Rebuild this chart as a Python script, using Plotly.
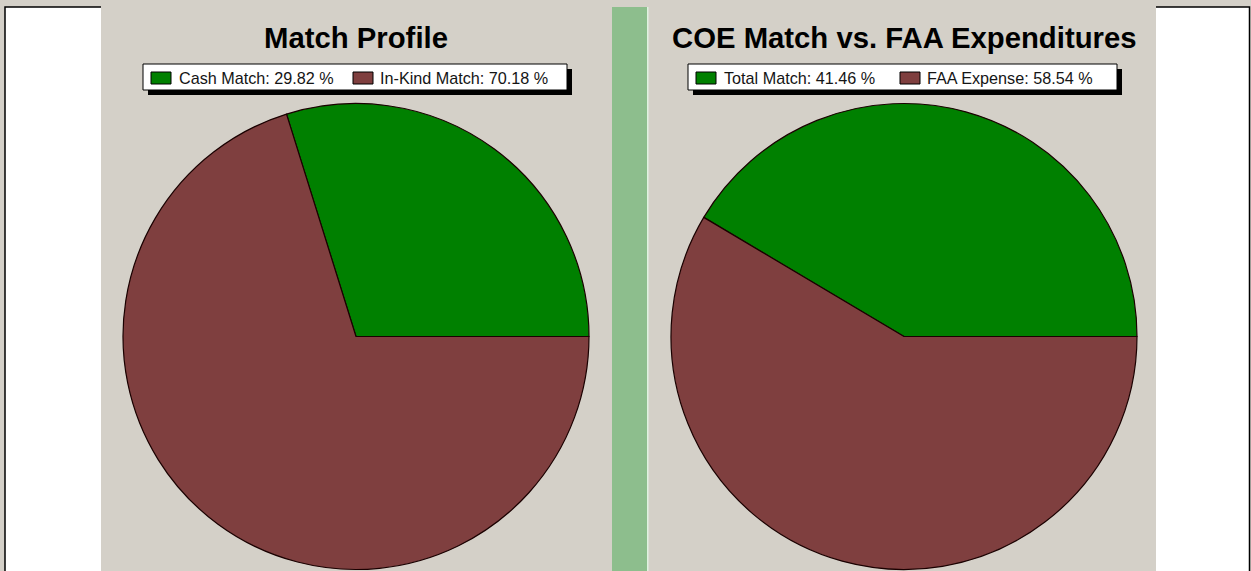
import plotly.graph_objects as go

# ---- data ----
left_title = "Match Profile"
left_labels = ["Cash Match", "In-Kind Match"]
left_values = [29.82, 70.18]

right_title = "COE Match vs. FAA Expenditures"
right_labels = ["Total Match", "FAA Expense"]
right_values = [41.46, 58.54]

slice_colors = ["#008000", "#7f3f3f"]

W, H = 1251, 571
PANEL = "#d4d0c8"
FONT = "Liberation Sans, Arial, sans-serif"


def px(x):
    return x / W


def py(y):
    return 1 - y / H


fig = go.Figure()


def add_pie(labels, values, cx, cy, r):
    # first slice starts at 3 o'clock and runs counterclockwise
    rot = 90 - 360.0 * values[0] / sum(values)
    fig.add_trace(go.Pie(
        labels=labels, values=values, sort=False,
        direction="counterclockwise", rotation=rot,
        marker=dict(colors=slice_colors, line=dict(color="#1a0000", width=1.2)),
        textinfo="none", showlegend=False,
        domain=dict(x=[px(cx - r), px(cx + r)], y=[py(cy + r), py(cy - r)]),
    ))


add_pie(left_labels, left_values, 356, 336.5, 233)
add_pie(right_labels, right_values, 904, 336.5, 233)

shapes = []
# white outer area with black border
shapes.append(dict(type="rect", xref="paper", yref="paper", layer="below",
                   x0=px(5), x1=px(1249.5), y0=py(575), y1=py(7),
                   fillcolor="white", line=dict(color="black", width=1.5)))
# gray panels
shapes.append(dict(type="rect", xref="paper", yref="paper", layer="below",
                   x0=px(101), x1=px(1156), y0=py(572), y1=py(-1),
                   fillcolor=PANEL, line=dict(width=0)))
# green separator strip
shapes.append(dict(type="rect", xref="paper", yref="paper", layer="below",
                   x0=px(612), x1=px(647), y0=py(572), y1=py(7),
                   fillcolor="#8dbe8d", line=dict(width=0)))
shapes.append(dict(type="rect", xref="paper", yref="paper", layer="below",
                   x0=px(647), x1=px(648.5), y0=py(572), y1=py(7),
                   fillcolor="#e0f2e0", line=dict(width=0)))

annotations = []


def add_legend(labels, values, box, items):
    x0, x1, y0, y1 = box
    # shadow
    shapes.append(dict(type="rect", xref="paper", yref="paper",
                       x0=px(x0 + 5), x1=px(x1 + 5), y0=py(y1 + 5), y1=py(y0 + 5),
                       fillcolor="black", line=dict(width=0)))
    shapes.append(dict(type="rect", xref="paper", yref="paper",
                       x0=px(x0), x1=px(x1), y0=py(y1), y1=py(y0),
                       fillcolor="white", line=dict(color="black", width=1)))
    for (sx, tx), lab, val, col in zip(items, labels, values, slice_colors):
        shapes.append(dict(type="rect", xref="paper", yref="paper",
                           x0=px(sx), x1=px(sx + 20), y0=py(84), y1=py(72),
                           fillcolor=col, line=dict(color="black", width=1)))
        annotations.append(dict(xref="paper", yref="paper", x=px(tx), y=py(78.5),
                                xanchor="left", yanchor="middle", showarrow=False,
                                text=f"{lab}: {val:.2f} %",
                                font=dict(family=FONT, size=16.2, color="#151515")))


add_legend(left_labels, left_values, (143, 567, 64, 90), [(151, 177), (353, 378)])
add_legend(right_labels, right_values, (688, 1117, 64, 90), [(696, 722), (900, 925)])

for title, cx in [(left_title, 356), (right_title, 904)]:
    annotations.append(dict(xref="paper", yref="paper", x=px(cx), y=py(37.5),
                            xanchor="center", yanchor="middle", showarrow=False,
                            text=f"<b>{title}</b>",
                            font=dict(family=FONT, size=29.3, color="black")))

fig.update_layout(
    width=W, height=H, autosize=False,
    margin=dict(l=0, r=0, t=0, b=0),
    paper_bgcolor=PANEL, plot_bgcolor=PANEL,
    shapes=shapes, annotations=annotations,
    xaxis=dict(visible=False), yaxis=dict(visible=False),
)

fig.write_html("out.html", config={"displayModeBar": False},
               post_script="document.body.style.margin='0';document.body.style.padding='0';")
